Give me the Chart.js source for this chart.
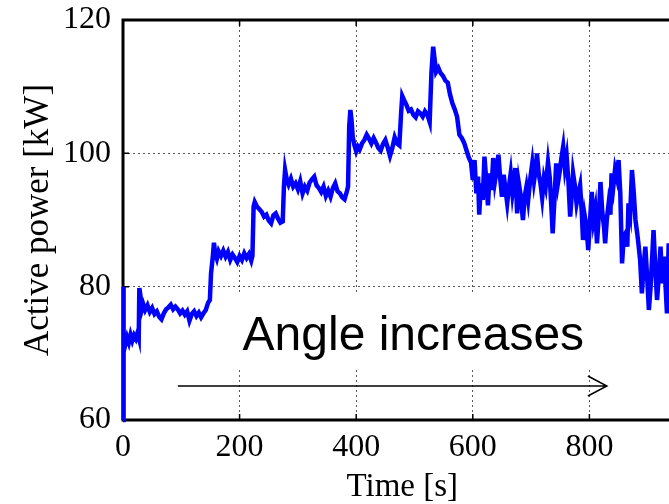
<!DOCTYPE html>
<html>
<head>
<meta charset="utf-8">
<script src="https://cdn.jsdelivr.net/npm/chart.js@4"></script>
<style>
  html, body { margin: 0; padding: 0; background: #fff; overflow: hidden; }
  #wrap { width: 730px; height: 504px; }
</style>
</head>
<body>
<div id="wrap"><canvas id="chart" width="730" height="504"></canvas></div>
<script>
// time [s] and active power [kW]
const times = [
  0, 0.5, 1.5, 4, 7, 10, 13, 16, 19, 22, 25, 27,
  28, 30, 32, 35, 38, 42, 46, 50, 54, 58, 62, 66, 70, 74, 78, 82, 86, 90, 94, 98,
  102, 106, 110, 114, 118, 122, 126, 130, 134, 138, 142, 146, 149,
  151, 154, 156, 158, 161, 164, 168, 172, 176, 180, 184, 188, 192, 196, 200, 204,
  208, 212, 216, 220, 222,
  224, 226, 230, 234, 238, 242, 246, 250, 254, 258, 262, 266, 270, 274,
  276, 278, 281, 284, 288, 292, 296, 300, 304, 308, 312, 316, 320, 324, 328, 332,
  336, 340, 344, 348, 352, 356, 360, 364, 368, 372, 376, 380, 384, 386,
  388, 390, 392, 394, 397, 400, 403, 406, 410, 414, 418, 422, 426, 430, 434, 438,
  442, 446, 450, 454, 458, 462, 466, 470, 474,
  477, 479, 482, 486, 490, 494, 498, 502, 506, 510, 514, 518, 522, 526,
  529, 532, 534, 537, 541, 545, 549, 553, 557, 561, 565, 569, 573, 577, 581, 585,
  589, 593, 597, 600,
  603, 606, 609, 611, 614, 617, 620, 623, 626, 629, 632, 635, 638, 641, 644, 647,
  650, 653, 656, 659, 662, 665, 668, 671, 673, 676, 679, 682, 686, 689, 692, 695,
  699, 702, 705, 708, 710, 713, 716, 719, 722, 725, 729, 732, 735, 737, 740, 743,
  746, 749, 752, 755, 758, 761, 764, 767, 770, 772, 775, 778, 781, 784, 787, 789,
  792, 795, 798, 801, 804, 807, 810, 813, 816, 819, 822, 825, 827, 830, 833, 836,
  838, 841, 844, 847, 850, 853, 856, 859, 862, 865, 867, 870, 873, 876, 879, 882,
  884, 887, 890, 893, 896, 899, 902, 905, 908, 910, 913, 916, 919, 922, 925, 928,
  931, 933, 936, 939, 942
];
const power = [
  60, 80, 72, 71.3, 72.4, 71.6, 72.8, 71.9, 72.7, 72.2, 73.1, 72.4,
  79.8, 78.6, 76.4, 77.3, 76.5, 77.2, 76.2, 76.8, 75.9, 76.3, 75.5, 75.1, 76.0, 76.6, 76.9, 77.3, 76.6, 77.0, 76.6, 76.0,
  76.4, 75.8, 76.3, 74.9, 75.9, 76.3, 75.6, 76.1, 75.4, 76.0, 76.5, 77.6, 78.0,
  82, 84.5, 86.6, 85.0, 84.2, 85.3, 84.6, 85.4, 84.5, 85.2, 84.0, 84.8, 84.3, 83.7, 84.6, 84.0,
  85.0, 84.3, 84.9, 83.9, 84.6,
  92.0, 92.7, 92.0, 91.6, 91.2, 90.5, 90.8, 89.9, 89.5, 90.7, 91.0, 90.2, 89.6, 89.8,
  95, 97.5, 96.0, 95.3, 96.2, 95.0, 95.5, 94.6, 95.8, 94.0, 95.0, 94.4, 95.6, 96.1, 96.5, 95.2,
  94.8, 94.2, 95.0, 93.6, 94.4, 93.5, 94.8, 95.5, 94.3, 94.0, 93.4, 93.1, 94.3, 95,
  104, 106.5, 105.0, 102.5, 101.2, 100.3, 101.0, 100.6, 101.5, 102.0, 102.8, 102.2, 101.5, 102.3, 101.6, 100.8,
  100.4, 101.4, 102.0, 100.9, 99.6, 100.8, 102.4, 101.5, 101.2,
  106, 108.6, 108.0, 107.3, 106.4, 106.6, 105.8, 105.4, 106.3, 106.0, 105.5, 106.3, 105.8, 104.7,
  112, 116, 114.5, 112.2, 112.8, 112.0, 111.6, 110.9, 110.6, 108.8, 107.5, 106.6, 105.5, 102.8, 102.3, 101.6,
  100.5, 99.4, 98.6, 96.0,
  99.0, 94.0, 96.5, 90.8, 95.5, 93.0, 99.5, 96.0, 92.2, 97.0, 94.5, 99.3, 95.8, 97.5, 99.8, 96.2,
  93.5, 96.8, 94.6, 92.5, 95.0, 97.0, 94.0, 96.0, 97.8, 91.0, 95.5, 93.8, 90.0, 93.5, 95.0, 93.0,
  96.5, 98.5, 95.8, 97.6, 100.0, 97.0, 95.5, 93.3, 96.2, 95.0, 98.7, 96.4, 91.5, 88.0, 93.0, 98.5,
  95.5, 97.2, 99.3, 101.0, 97.8, 99.5, 95.8, 90.5, 94.0, 97.0, 95.2, 92.5, 94.0, 95.2, 91.0, 87.0,
  90.6, 89.0, 85.5, 89.8, 94.2, 90.0, 91.6, 86.5, 90.5, 95.7, 91.3, 89.0, 86.5, 90.2, 92.5, 90.8,
  97.0, 95.0, 97.6, 96.4, 99.0, 94.0, 83.5, 87.5, 88.0, 86.0, 92.5, 91.0, 97.5, 94.2, 90.0, 88.0,
  86.5, 84.0, 79.0, 83.0, 86.0, 81.5, 76.5, 80.0, 85.0, 88.5, 83.0, 78.0, 81.5, 86.0, 80.5, 84.5,
  79.5, 76.0, 86.5, 83.0, 80.5
];
const xTicks = [0, 200, 400, 600, 800, 1000];
const yTicks = [60, 80, 100, 120];

const serif = '"Liberation Serif", "Times New Roman", serif';

const framePlugin = {
  id: 'frame',
  beforeDatasetsDraw(chart) {
    const { ctx, chartArea: a, scales } = chart;
    ctx.save();
    ctx.strokeStyle = '#000';
    ctx.lineWidth = 1.5;
    ctx.beginPath();
    scales.x.ticks.forEach((t) => {
      const px = scales.x.getPixelForValue(t.value);
      ctx.moveTo(px, a.bottom); ctx.lineTo(px, a.bottom - 6);
      ctx.moveTo(px, a.top); ctx.lineTo(px, a.top + 6);
    });
    scales.y.ticks.forEach((t) => {
      const py = scales.y.getPixelForValue(t.value);
      ctx.moveTo(a.left, py); ctx.lineTo(a.left + 6, py);
    });
    ctx.stroke();
    ctx.lineWidth = 3;
    ctx.strokeRect(a.left, a.top, a.right - a.left, a.bottom - a.top);
    ctx.restore();
  },
  afterDatasetsDraw(chart) {
    const { ctx, scales } = chart;
    const x = scales.x, y = scales.y;
    ctx.save();
    // x axis title, centred on the visible part of the axis
    ctx.font = '33px ' + serif;
    ctx.fillStyle = '#000';
    ctx.textAlign = 'center';
    ctx.textBaseline = 'alphabetic';
    ctx.fillText('Time [s]', x.getPixelForValue(479), 496);
    // text with white background
    ctx.font = '48px "Liberation Sans", Arial, sans-serif';
    const label = 'Angle increases';
    const w = ctx.measureText(label).width;
    const cx = x.getPixelForValue(498);
    const base = y.getPixelForValue(70.5);
    ctx.fillStyle = '#fff';
    ctx.fillRect(cx - w / 2 - 10, base - 58, w + 20, 78);
    ctx.fillStyle = '#000';
    ctx.fillText(label, cx, base);
    // arrow
    const x0 = x.getPixelForValue(94);
    const x1 = x.getPixelForValue(830);
    const ay = y.getPixelForValue(65.1);
    ctx.strokeStyle = '#000';
    ctx.lineWidth = 1.5;
    ctx.beginPath();
    ctx.moveTo(x0, ay); ctx.lineTo(x1, ay);
    ctx.moveTo(x1 - 19, ay - 10); ctx.lineTo(x1, ay); ctx.lineTo(x1 - 19, ay + 10);
    ctx.stroke();
    ctx.restore();
  },
};

new Chart(document.getElementById('chart'), {
  type: 'line',
  data: {
    datasets: [{
      data: times.map((t, i) => ({ x: t, y: power[i] })),
      borderColor: '#0000FF',
      borderWidth: 4.5,
      pointRadius: 0,
      tension: 0,
      clip: 4,
    }],
  },
  options: {
    responsive: false,
    animation: false,
    events: [],
    layout: { padding: { top: 20, right: 24, left: 0, bottom: 0 } },
    plugins: { legend: { display: false }, tooltip: { enabled: false } },
    scales: {
      x: {
        type: 'linear',
        min: 0,
        max: 1000,
        afterFit: (s) => { s.height = 84; s.paddingLeft = 0; s.paddingRight = 0; },
        afterBuildTicks: (s) => { s.ticks = xTicks.map((v) => ({ value: v })); },
        ticks: { color: '#000', padding: 8, font: { family: serif, size: 32 } },
        grid: { color: 'rgba(0,0,0,0.65)', lineWidth: 1, drawTicks: false },
        border: { display: false, dash: [2, 3] },
        title: { display: false },
      },
      y: {
        min: 60,
        max: 120,
        afterFit: (s) => { s.width = 123; s.paddingTop = 0; s.paddingBottom = 0; },
        afterBuildTicks: (s) => { s.ticks = yTicks.map((v) => ({ value: v })); },
        ticks: { color: '#000', padding: 12, font: { family: serif, size: 32 } },
        grid: { color: 'rgba(0,0,0,0.65)', lineWidth: 1, drawTicks: false },
        border: { display: false, dash: [2, 3] },
        title: {
          display: true,
          text: 'Active power [kW]',
          color: '#000',
          font: { family: serif, size: 35, lineHeight: 1.2 },
          padding: { top: 18, bottom: 0 },
        },
      },
    },
  },
  plugins: [framePlugin],
});
</script>
</body>
</html>
